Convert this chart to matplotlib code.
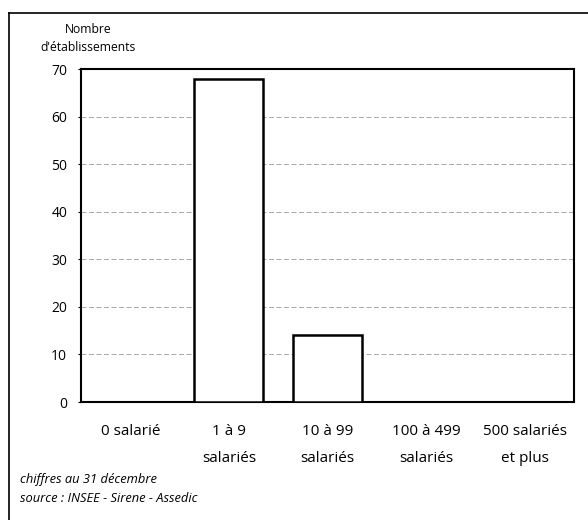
import numpy as np
import matplotlib.pyplot as plt
from matplotlib.lines import Line2D

# Établissements par tranche d'effectif
categories = ["0 salarié", "1 à 9\nsalariés", "10 à 99\nsalariés",
              "100 à 499\nsalariés", "500 salariés\net plus"]
values = [0, 68, 14, 0, 0]
yticks = [0, 10, 20, 30, 40, 50, 60, 70]

plt.rcParams['font.family'] = ['Open Sans', 'DejaVu Sans']

fig = plt.figure(figsize=(5.88, 5.20), dpi=100)
ax = fig.add_axes([0.1378, 0.2269, 0.8384, 0.6404])

x = np.arange(len(categories))
ax.bar(x, values, width=0.7, color='white', edgecolor='black', linewidth=1.8, zorder=3)

ax.set_xlim(-0.5, len(categories) - 0.5)
ax.set_ylim(0, 70)
ax.set_yticks(yticks)
ax.set_xticks(x)
ax.set_xticklabels(categories, fontsize=11, linespacing=2.1)
ax.tick_params(axis='y', labelsize=10, length=2, pad=8)
ax.tick_params(axis='x', length=0, pad=16)

# gridlines
ax.yaxis.grid(True, color='#999999', linestyle=(0, (6, 3)), linewidth=0.6, zorder=0)

for s in ax.spines.values():
    s.set_linewidth(1.5)

# y axis title
fig.text(88 / 588, 1 - 38.5 / 520, "Nombre\nd'établissements", ha='center', va='center',
         fontsize=8.7, linespacing=1.55)

# footnote
fig.text(20 / 588, 1 - 480 / 520, "chiffres au 31 décembre", fontsize=9.3,
         style='italic', va='center')
fig.text(20 / 588, 1 - 499 / 520, "source : INSEE - Sirene - Assedic", fontsize=9.3,
         style='italic', va='center')

# outer frame (top and left edges)
fig.add_artist(Line2D([9 / 588, 1], [1 - 13 / 520, 1 - 13 / 520], color='black', linewidth=1.2))
fig.add_artist(Line2D([9 / 588, 9 / 588], [0, 1 - 13 / 520], color='black', linewidth=1.2))

fig.savefig("out.png", dpi=100)
